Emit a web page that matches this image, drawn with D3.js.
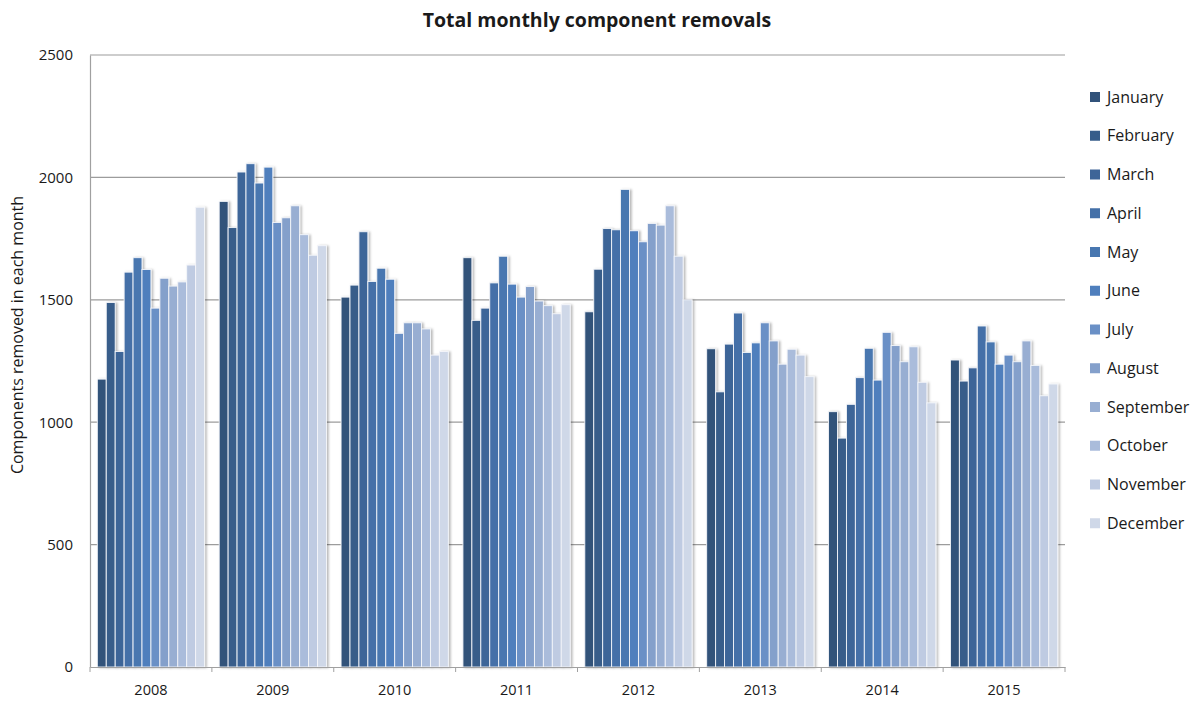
<!DOCTYPE html>
<html>
<head>
<meta charset="utf-8">
<script src="https://cdn.jsdelivr.net/npm/d3@7"></script>
<style>
  body { margin: 0; background: #fff; }
  text { font-family: "Open Sans", Lato, sans-serif; fill: #1a1a1a; }
</style>
</head>
<body>
<div class="chart"></div>
<script>
var svgWidth = 1197;
var svgHeight = 704;

var margin = { top: 55, right: 132, bottom: 37, left: 90 };
var width = svgWidth - margin.left - margin.right;
var height = svgHeight - margin.top - margin.bottom;

// data
var years = ["2008", "2009", "2010", "2011", "2012", "2013", "2014", "2015"];
var months = ["January", "February", "March", "April", "May", "June",
    "July", "August", "September", "October", "November", "December"];
var monthColors = ["#31527a", "#375d8a", "#3e6598", "#4470a8", "#4877b0", "#4f7fbd",
    "#6a90c6", "#84a0cb", "#98aed2", "#aabcdb", "#bfcbe2", "#cfd8e8"];
var yTicks = [0, 500, 1000, 1500, 2000, 2500];

var removals2008 = [1176, 1489, 1289, 1613, 1672, 1624, 1466, 1588, 1556, 1573, 1642, 1878];
var removals2009 = [1902, 1795, 2022, 2056, 1977, 2042, 1816, 1835, 1884, 1766, 1682, 1721];
var removals2010 = [1511, 1560, 1778, 1575, 1629, 1584, 1363, 1406, 1406, 1381, 1274, 1289];
var removals2011 = [1672, 1416, 1466, 1569, 1678, 1564, 1511, 1554, 1495, 1476, 1443, 1480];
var removals2012 = [1451, 1625, 1791, 1786, 1951, 1782, 1737, 1812, 1805, 1884, 1678, 1500];
var removals2013 = [1300, 1124, 1319, 1446, 1285, 1324, 1406, 1332, 1237, 1298, 1274, 1186];
var removals2014 = [1043, 935, 1073, 1182, 1302, 1172, 1367, 1313, 1247, 1308, 1163, 1079];
var removals2015 = [1254, 1168, 1222, 1393, 1328, 1237, 1274, 1247, 1332, 1232, 1108, 1156];

var yearValues = [removals2008, removals2009, removals2010, removals2011,
    removals2012, removals2013, removals2014, removals2015];

var tableData = years.map(function (y, i) {
    return { year: y, values: yearValues[i] };
});

var svg = d3.select(".chart")
    .append("svg")
    .attr("width", svgWidth)
    .attr("height", svgHeight);

var defs = svg.append("defs");
var shadow = defs.append("filter")
    .attr("id", "shadow")
    .attr("x", "-30%").attr("y", "-5%")
    .attr("width", "180%").attr("height", "115%");
shadow.append("feDropShadow")
    .attr("dx", 1.8)
    .attr("dy", 0.5)
    .attr("stdDeviation", 1)
    .attr("flood-color", "#000")
    .attr("flood-opacity", 0.28);

var chartGroup = svg.append("g")
    .attr("transform", `translate(${margin.left}, ${margin.top})`);

var x0 = d3.scaleBand()
    .domain(years)
    .range([0, width])
    .paddingInner(0.12)
    .paddingOuter(0.06);

var x1 = d3.scaleBand()
    .domain(months)
    .range([0, x0.bandwidth()])
    .padding(0);

var yLinearScale = d3.scaleLinear()
    .domain([0, 2500])
    .range([height, 0]);

// gridlines
chartGroup.append("g")
    .selectAll("line")
    .data(yTicks.filter(d => d > 0))
    .enter()
    .append("line")
    .attr("x1", 0)
    .attr("x2", width)
    .attr("y1", d => yLinearScale(d))
    .attr("y2", d => yLinearScale(d))
    .attr("stroke", "#9c9c9c")
    .attr("stroke-width", 1.2);

// bars
var yearGroups = chartGroup.selectAll(".year")
    .data(tableData)
    .enter()
    .append("g")
    .attr("class", "year")
    .attr("transform", d => `translate(${x0(d.year)}, 0)`);

yearGroups.selectAll("rect")
    .data(d => d.values.map((v, i) => ({ month: months[i], value: v, idx: i })))
    .enter()
    .append("rect")
    .attr("x", d => x1(d.month))
    .attr("y", d => yLinearScale(d.value))
    .attr("width", x1.bandwidth())
    .attr("height", d => height - yLinearScale(d.value))
    .attr("fill", d => monthColors[d.idx])
    .attr("stroke", "#f4f6fa")
    .attr("stroke-width", 0.9)
    .attr("filter", "url(#shadow)");

// axes
var bottomAxis = d3.axisBottom(x0).tickSize(0).tickPadding(18);
var leftAxis = d3.axisLeft(yLinearScale)
    .tickValues(yTicks)
    .tickFormat(d3.format("d"))
    .tickSize(0)
    .tickPadding(17);

var xAxis = chartGroup.append("g")
    .attr("transform", `translate(0, ${height})`)
    .call(bottomAxis);
xAxis.select(".domain").attr("stroke", "#a0a0a0").attr("stroke-width", 1.2);
xAxis.selectAll("text")
    .style("font-size", "14.5px")
    .style("font-family", "\"Open Sans\", Lato, sans-serif")
    .attr("fill", "#1a1a1a");

// tick marks at the year boundaries
xAxis.selectAll(".sep")
    .data(d3.range(years.length + 1))
    .enter()
    .append("line")
    .attr("class", "sep")
    .attr("x1", i => i * x0.step())
    .attr("x2", i => i * x0.step())
    .attr("y1", 0)
    .attr("y2", 5)
    .attr("stroke", "#a0a0a0");

var yAxis = chartGroup.append("g")
    .call(leftAxis);
yAxis.select(".domain").attr("stroke", "#a0a0a0").attr("stroke-width", 1.2);
yAxis.selectAll("text")
    .style("font-size", "15px")
    .style("font-family", "\"Open Sans\", Lato, sans-serif")
    .attr("fill", "#1a1a1a");

// title
svg.append("text")
    .attr("x", 597)
    .attr("y", 27)
    .attr("text-anchor", "middle")
    .style("font-size", "19.5px")
    .style("font-weight", "bold")
    .text("Total monthly component removals");

// y label
svg.append("text")
    .attr("transform", "rotate(-90)")
    .attr("x", -335)
    .attr("y", 23)
    .attr("text-anchor", "middle")
    .style("font-size", "16px")
    .text("Components removed in  each month");

// legend
var legend = svg.append("g")
    .attr("transform", "translate(1090, 92)");

var legendItems = legend.selectAll("g")
    .data(months)
    .enter()
    .append("g")
    .attr("transform", (d, i) => `translate(0, ${i * 38.75})`);

legendItems.append("rect")
    .attr("width", 10)
    .attr("height", 10)
    .attr("fill", (d, i) => monthColors[i]);

legendItems.append("text")
    .attr("x", 17)
    .attr("y", 5)
    .attr("dy", "0.35em")
    .style("font-size", "16px")
    .text(d => d);
</script>
</body>
</html>
